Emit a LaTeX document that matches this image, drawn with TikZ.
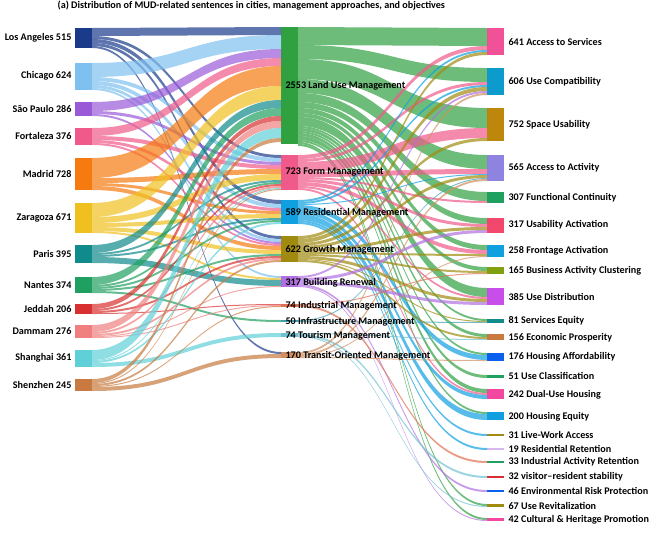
\documentclass[tikz,border=0pt]{standalone}
\usepackage{fontspec}
\setmainfont{Carlito}
\usepackage{xcolor}
\definecolor{cLA}{HTML}{1A3A8A}\definecolor{cCHI}{HTML}{7EC0F0}
\definecolor{cSAO}{HTML}{9A5AD8}\definecolor{cFOR}{HTML}{F05A8A}
\definecolor{cMAD}{HTML}{F57A10}\definecolor{cZAR}{HTML}{F0C020}
\definecolor{cPAR}{HTML}{108A8A}\definecolor{cNAN}{HTML}{20A060}
\definecolor{cJED}{HTML}{D83030}\definecolor{cDAM}{HTML}{F08080}
\definecolor{cSHA}{HTML}{60D0D8}\definecolor{cSHE}{HTML}{C87A40}
\definecolor{cLU}{HTML}{30A040}\definecolor{cFM}{HTML}{F05A8A}
\definecolor{cRM}{HTML}{10A0E0}\definecolor{cGM}{HTML}{A08A10}
\definecolor{cBR}{HTML}{B070E0}\definecolor{cIM}{HTML}{E07050}
\definecolor{cINF}{HTML}{40A0B0}\definecolor{cTM}{HTML}{70C0D0}
\definecolor{cTOM}{HTML}{D09060}
% store a bar: name, x, top, height, colour
\newcommand\snode[5]{%
  \fill[#5] (#2,#3) rectangle ++(17,#4);
  \expandafter\xdef\csname nx#1\endcsname{#2}%
  \expandafter\xdef\csname no#1\endcsname{#3}%
  \expandafter\xdef\csname ni#1\endcsname{#3}}
% band from bar to bar: src, dst, width, colour
\newcommand\flow[4]{%
  \pgfmathsetmacro\xa{\csname nx#1\endcsname+17}%
  \pgfmathsetmacro\xb{\csname nx#2\endcsname}%
  \pgfmathsetmacro\ya{\csname no#1\endcsname}%
  \pgfmathsetmacro\yb{\csname ni#2\endcsname}%
  \pgfmathsetmacro\xm{(\xa+\xb)/2}%
  \fill[#4,opacity=.7] (\xa,\ya) .. controls (\xm,\ya) and (\xm,\yb) .. (\xb,\yb)
    -- (\xb,\yb+#3) .. controls (\xm,\yb+#3) and (\xm,\ya+#3) .. (\xa,\ya+#3) -- cycle;
  \pgfmathsetmacro\ynew{\ya+#3}\expandafter\xdef\csname no#1\endcsname{\ynew}%
  \pgfmathsetmacro\ynew{\yb+#3}\expandafter\xdef\csname ni#2\endcsname{\ynew}}
\tikzset{lbl/.style={font=\fontsize{7.6}{9}\selectfont\bfseries, inner sep=1pt}}
\begin{document}
\begin{tikzpicture}[x=0.75pt,y=-0.75pt]
  \useasboundingbox (0,0) rectangle (667,533);
  \node[lbl, anchor=west] (title) at (56,6) {(a) Distribution of MUD-related sentences in cities, management approaches, and objectives};
  % cities
  \snode{LA}{75}{28}{20}{cLA}   \snode{CHI}{75}{63}{27}{cCHI}
  \snode{SAO}{75}{102}{14}{cSAO} \snode{FOR}{75}{128}{17}{cFOR}
  \snode{MAD}{75}{158}{32}{cMAD} \snode{ZAR}{75}{203}{30}{cZAR}
  \snode{PAR}{75}{245}{18}{cPAR} \snode{NAN}{75}{277}{16}{cNAN}
  \snode{JED}{75}{304}{10}{cJED} \snode{DAM}{75}{325}{13}{cDAM}
  \snode{SHA}{75}{350}{17}{cSHA} \snode{SHE}{75}{379}{12}{cSHE}
  % management approaches
  \snode{LU}{281}{27}{117}{cLU}  \snode{FM}{281}{155}{35}{cFM}
  \snode{RM}{281}{200}{24}{cRM}  \snode{GM}{281}{236}{26}{cGM}
  \snode{BR}{281}{276}{11}{cBR}  \snode{IM}{281}{304}{3}{cIM}
  \snode{INF}{281}{320}{2}{cINF} \snode{TM}{281}{333}{4}{cTM}
  \snode{TOM}{281}{352}{6}{cTOM}
  % objectives
  \snode{ASV}{487}{28}{27}{cFM!90!magenta} \snode{UC}{487}{68}{27}{cRM!80!teal}
  \snode{SU}{487}{108}{33}{cGM!70!orange}  \snode{AA}{487}{155}{26}{cSAO!60!cCHI}
  \snode{FC}{487}{192}{11}{cNAN}  \snode{UA}{487}{218}{15}{cFOR!80!red}
  \snode{FA}{487}{245}{12}{cRM}   \snode{BAC}{487}{267}{7}{cGM!80!green}
  \snode{UD}{487}{288}{17}{cBR!70!magenta} \snode{SE}{487}{319}{4}{cPAR}
  \snode{EP}{487}{334}{6}{cSHE}   \snode{HA}{487}{353}{8}{cRM!60!blue}
  \snode{UCL}{487}{375}{3}{cNAN}  \snode{DUH}{487}{389}{10}{cFM!80!magenta}
  \snode{HE}{487}{412}{8}{cRM}    \snode{LWA}{487}{434}{2}{cGM}
  \snode{RR}{487}{448}{2}{cBR!50}  \snode{IAR}{487}{461}{2}{cNAN}
  \snode{VRS}{487}{476}{2}{cJED}  \snode{ERP}{487}{490}{2}{cRM!60!blue}
  \snode{UR}{487}{504}{3}{cGM}    \snode{CHP}{487}{518}{3}{cFM!80!magenta}
  % cities -> approaches
  \flow{LA}{LU}{8}{cLA}\flow{LA}{FM}{3}{cLA}\flow{LA}{RM}{4}{cLA}\flow{LA}{GM}{3}{cLA}\flow{LA}{TOM}{2}{cLA}
  \flow{CHI}{LU}{14}{cCHI}\flow{CHI}{FM}{4}{cCHI}\flow{CHI}{RM}{4}{cCHI}\flow{CHI}{GM}{3}{cCHI}\flow{CHI}{BR}{2}{cCHI}
  \flow{SAO}{LU}{9}{cSAO}\flow{SAO}{FM}{3}{cSAO}\flow{SAO}{GM}{2}{cSAO}
  \flow{FOR}{LU}{8}{cFOR}\flow{FOR}{FM}{4}{cFOR}\flow{FOR}{RM}{3}{cFOR}\flow{FOR}{GM}{2}{cFOR}
  \flow{MAD}{LU}{20}{cMAD}\flow{MAD}{FM}{5}{cMAD}\flow{MAD}{RM}{3}{cMAD}\flow{MAD}{GM}{4}{cMAD}
  \flow{ZAR}{LU}{14}{cZAR}\flow{ZAR}{FM}{6}{cZAR}\flow{ZAR}{RM}{4}{cZAR}\flow{ZAR}{GM}{4}{cZAR}\flow{ZAR}{BR}{2}{cZAR}
  \flow{PAR}{LU}{8}{cPAR}\flow{PAR}{FM}{2}{cPAR}\flow{PAR}{RM}{2}{cPAR}\flow{PAR}{BR}{6}{cPAR}
  \flow{NAN}{LU}{8}{cNAN}\flow{NAN}{FM}{2}{cNAN}\flow{NAN}{RM}{2}{cNAN}\flow{NAN}{GM}{2}{cNAN}\flow{NAN}{INF}{2}{cNAN}
  \flow{JED}{LU}{5}{cJED}\flow{JED}{FM}{2}{cJED}\flow{JED}{GM}{2}{cJED}\flow{JED}{IM}{1}{cJED}
  \flow{DAM}{LU}{7}{cDAM}\flow{DAM}{FM}{2}{cDAM}\flow{DAM}{GM}{2}{cDAM}\flow{DAM}{BR}{1}{cDAM}\flow{DAM}{IM}{1}{cDAM}
  \flow{SHA}{LU}{10}{cSHA}\flow{SHA}{FM}{1}{cSHA}\flow{SHA}{RM}{2}{cSHA}\flow{SHA}{TM}{4}{cSHA}
  \flow{SHE}{LU}{4}{cSHE}\flow{SHE}{FM}{1}{cSHE}\flow{SHE}{GM}{2}{cSHE}\flow{SHE}{IM}{1}{cSHE}\flow{SHE}{TOM}{4}{cSHE}
  % approaches -> objectives
  \flow{LU}{ASV}{18}{cLU}\flow{LU}{UC}{14}{cLU}\flow{LU}{SU}{20}{cLU}\flow{LU}{AA}{14}{cLU}
  \flow{LU}{FC}{9}{cLU}\flow{LU}{UA}{6}{cLU}\flow{LU}{FA}{5}{cLU}\flow{LU}{BAC}{4}{cLU}
  \flow{LU}{UD}{9}{cLU}\flow{LU}{SE}{2}{cLU}\flow{LU}{EP}{3}{cLU}\flow{LU}{HA}{2}{cLU}
  \flow{LU}{UCL}{3}{cLU}\flow{LU}{DUH}{4}{cLU}\flow{LU}{HE}{2}{cLU}\flow{LU}{UR}{2}{cLU}\flow{LU}{CHP}{2}{cLU}
  \flow{FM}{ASV}{4}{cFM}\flow{FM}{UC}{3}{cFM}\flow{FM}{SU}{10}{cFM}\flow{FM}{AA}{5}{cFM}
  \flow{FM}{FC}{2}{cFM}\flow{FM}{UA}{3}{cFM}\flow{FM}{FA}{4}{cFM}\flow{FM}{UD}{2}{cFM}\flow{FM}{DUH}{2}{cFM}
  \flow{RM}{ASV}{2}{cRM}\flow{RM}{UC}{2}{cRM}\flow{RM}{AA}{1}{cRM}\flow{RM}{HA}{5}{cRM}
  \flow{RM}{DUH}{4}{cRM}\flow{RM}{HE}{6}{cRM}\flow{RM}{LWA}{2}{cRM}\flow{RM}{RR}{2}{cRM}
  \flow{GM}{ASV}{3}{cGM}\flow{GM}{UC}{4}{cGM}\flow{GM}{SU}{3}{cGM}\flow{GM}{AA}{3}{cGM}
  \flow{GM}{UA}{3}{cGM}\flow{GM}{FA}{2}{cGM}\flow{GM}{BAC}{2}{cGM}\flow{GM}{UD}{3}{cGM}
  \flow{GM}{SE}{1}{cGM}\flow{GM}{EP}{2}{cGM}
  \flow{BR}{UC}{2}{cBR}\flow{BR}{UA}{3}{cBR}\flow{BR}{UD}{3}{cBR}\flow{BR}{ERP}{2}{cBR}\flow{BR}{CHP}{1}{cBR}
  \flow{IM}{BAC}{1}{cIM}\flow{IM}{IAR}{2}{cIM}
  \flow{INF}{AA}{1}{cINF}\flow{INF}{SE}{1}{cINF}
  \flow{TM}{EP}{1}{cTM}\flow{TM}{VRS}{2}{cTM}\flow{TM}{UR}{1}{cTM}
  \flow{TOM}{UC}{2}{cTOM}\flow{TOM}{AA}{2}{cTOM}\flow{TOM}{FA}{1}{cTOM}\flow{TOM}{HA}{1}{cTOM}
  % city labels
  \foreach \y/\t in {38/Los Angeles 515,76/Chicago 624,109/São Paulo 286,136/Fortaleza 376,
      174/Madrid 728,218/Zaragoza 671,254/Paris 395,285/Nantes 374,309/Jeddah 206,
      331/Dammam 276,358/Shanghai 361,385/Shenzhen 245}
    \node[lbl, anchor=east] at (73,\y) {\t};
  % approach labels
  \foreach \y/\t in {86/2553 Land Use Management,172/723 Form Management,213/589 Residential Management,
      250/622 Growth Management,283/317 Building Renewal,306/74 Industrial Management,
      322/50 Infrastructure Management,336/74 Tourism Management,356/170 Transit-Oriented Management}
    \node[lbl, anchor=west] at (284,\y) {\t};
  % objective labels
  \foreach \y/\t in {42/641 Access to Services,82/606 Use Compatibility,125/752 Space Usability,
      168/565 Access to Activity,198/307 Functional Continuity,225/317 Usability Activation,
      251/258 Frontage Activation,271/165 Business Activity Clustering,297/385 Use Distribution,
      321/81 Services Equity,338/156 Economic Prosperity,357/176 Housing Affordability,
      376/51 Use Classification,395/242 Dual-Use Housing,417/200 Housing Equity,
      435/31 Live-Work Access,449/19 Residential Retention,462/33 Industrial Activity Retention,
      477/32 visitor–resident stability,491/46 Environmental Risk Protection,
      506/67 Use Revitalization,520/42 Cultural \& Heritage Promotion}
    \node[lbl, anchor=west] at (507,\y) {\t};
\end{tikzpicture}
\end{document}
